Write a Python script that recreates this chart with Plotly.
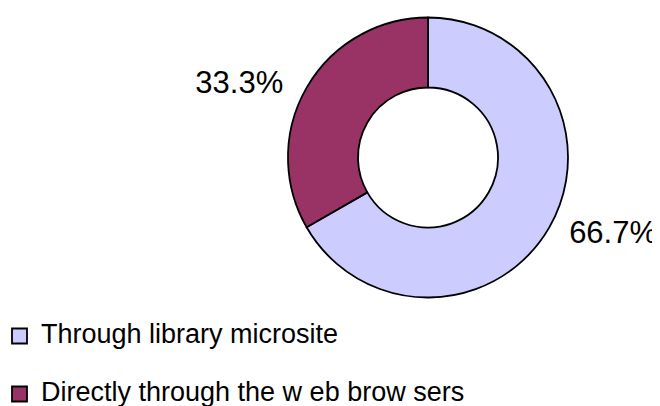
import plotly.graph_objects as go

categories = ["Through library microsite", "Directly through the w eb brow sers"]
values = [66.7, 33.3]
colors = ["#CCCCFF", "#993366"]

FONT = "Liberation Sans, Arial, sans-serif"

fig = go.Figure()
fig.add_trace(go.Pie(
    labels=categories,
    values=values,
    hole=0.5,
    sort=False,
    direction="clockwise",
    rotation=0,
    marker=dict(colors=colors, line=dict(color="black", width=1.8)),
    textposition="outside",
    texttemplate=["\u00a0\u200a%{percent:.1%}", "%{percent:.1%}\u00a0\u2009"],
    textfont=dict(family=FONT, size=31, color="black"),
    showlegend=False,
    domain=dict(x=[0.4242, 0.8485], y=[0.2869, 0.9766]),
))

# Manual legend (square swatch + label) built from the category list
sq_left, sq_size, text_left = 4, 15, 31
row_centers = [328, 386]
for name, col, yc in zip(categories, colors, row_centers):
    fig.add_shape(
        type="rect", xref="paper", yref="paper",
        x0=sq_left / 660, x1=(sq_left + sq_size) / 660,
        y0=1 - (yc + sq_size / 2) / 406, y1=1 - (yc - sq_size / 2) / 406,
        fillcolor=col, line=dict(color="black", width=1.8),
    )
    fig.add_annotation(
        text=name, xref="paper", yref="paper",
        x=text_left / 660, y=1 - (yc - 2) / 406,
        xanchor="left", yanchor="middle", showarrow=False,
        font=dict(family=FONT, size=27, color="black"),
    )

fig.update_layout(
    width=660, height=406,
    margin=dict(l=0, r=0, t=0, b=0),
    paper_bgcolor="white", plot_bgcolor="white",
)

fig.write_html("out.html")
